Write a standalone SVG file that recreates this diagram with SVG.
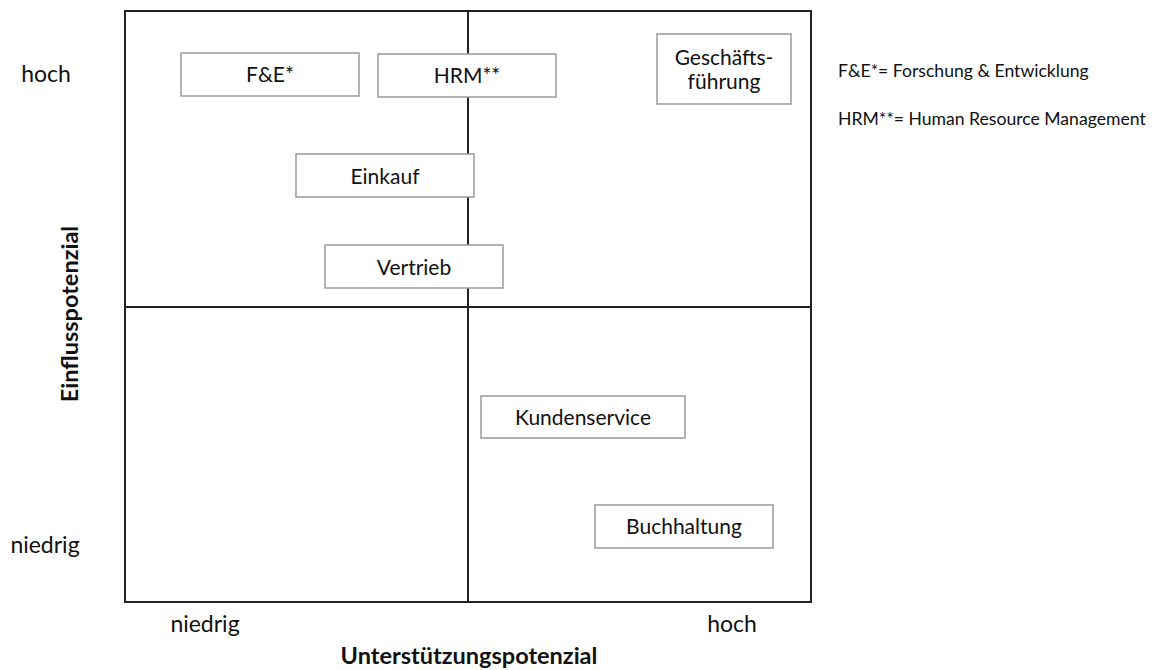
<svg xmlns="http://www.w3.org/2000/svg" width="1157" height="670" viewBox="0 0 1157 670">
<style>
  text { font-family: Lato, "Open Sans", "Liberation Sans", sans-serif; fill: #111111; }
  .lbl { font-size: 21px; text-anchor: middle; }
  .axis { font-size: 23px; text-anchor: middle; }
  .title { font-size: 23.5px; font-weight: bold; text-anchor: middle; }
  .note { font-size: 17.6px; }
  .box { fill: #ffffff; stroke: #9a9a9a; stroke-width: 1.5; }
  .grid { stroke: #222222; stroke-width: 2; fill: none; }
</style>
<rect width="1157" height="670" fill="#ffffff"/>
<g id="connectors">
  <rect class="grid" x="125" y="11" width="686" height="591"/>
  <line class="grid" x1="468" y1="11" x2="468" y2="602"/>
  <line class="grid" x1="125" y1="307" x2="811" y2="307"/>
</g>
<g id="fe">
  <rect class="box" x="181" y="53" width="178" height="43"/>
  <text class="lbl" x="270" y="82">F&amp;E*</text>
</g>
<g id="hrm">
  <rect class="box" x="378" y="54" width="178" height="43"/>
  <text class="lbl" x="467" y="83">HRM**</text>
</g>
<g id="geschaeftsfuehrung">
  <rect class="box" x="657" y="34" width="134" height="70"/>
  <text class="lbl" x="724" y="65">Geschäfts-</text>
  <text class="lbl" x="724" y="89">führung</text>
</g>
<g id="einkauf">
  <rect class="box" x="296" y="154" width="178" height="43"/>
  <text class="lbl" x="385" y="184">Einkauf</text>
</g>
<g id="vertrieb">
  <rect class="box" x="325" y="245" width="178" height="43"/>
  <text class="lbl" x="414" y="275">Vertrieb</text>
</g>
<g id="kundenservice">
  <rect class="box" x="481" y="396" width="204" height="42"/>
  <text class="lbl" x="583" y="425">Kundenservice</text>
</g>
<g id="buchhaltung">
  <rect class="box" x="595" y="505" width="178" height="43"/>
  <text class="lbl" x="684" y="534">Buchhaltung</text>
</g>
<g id="axes">
  <text class="axis" x="46" y="82">hoch</text>
  <text class="axis" x="45" y="553">niedrig</text>
  <text class="axis" x="205" y="632">niedrig</text>
  <text class="axis" x="732" y="632">hoch</text>
  <text class="title" x="469" y="664">Unterstützungspotenzial</text>
  <text class="title" transform="translate(78,314) rotate(-90)" x="0" y="0">Einflusspotenzial</text>
</g>
<g id="legend">
  <text class="note" x="838" y="77">F&amp;E*= Forschung &amp; Entwicklung</text>
  <text class="note" x="838" y="125">HRM**= Human Resource Management</text>
</g>
</svg>
